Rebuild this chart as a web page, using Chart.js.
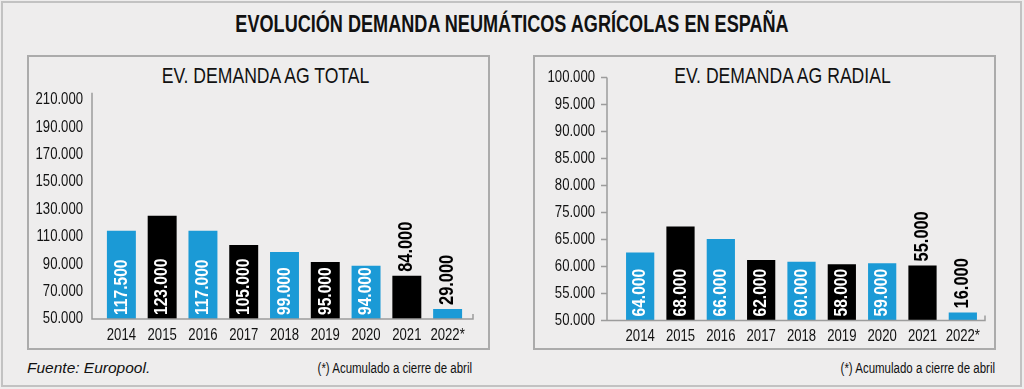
<!DOCTYPE html>
<html>
<head>
<meta charset="utf-8">
<script src="https://cdn.jsdelivr.net/npm/chart.js@4/dist/chart.umd.min.js"></script>
<style>
	body { margin: 0; background: #eeeded; width: 1024px; height: 389px; overflow: hidden; font-family: "Liberation Sans", Arial, sans-serif; color: #111; }
	.frame { position: absolute; left: 1px; top: 1px; width: 1021px; height: 386px; border: 2px solid #c2c2c2; box-sizing: border-box; }
	.panel { position: absolute; top: 55px; width: 463px; height: 295px; border: 2px solid #ababab; box-sizing: border-box; }
	.chart { position: absolute; top: 55px; }
	.txt { position: absolute; white-space: nowrap; line-height: 1; }
	.narrow { transform: scaleX(0.82); transform-origin: center; }
	.main-title { left: 0; width: 1024px; top: 13px; text-align: center; font-weight: bold; font-size: 23.5px; transform: scaleX(0.77); }
	.sub-title { top: 65px; width: 463px; text-align: center; font-size: 22px; transform: scaleX(0.8); }
	.fuente { left: 27px; top: 360px; font-style: italic; font-size: 15.5px; }
	.nota { top: 361px; font-size: 14px; text-align: right; width: 300px; transform-origin: right; }
</style>
</head>
<body>
<div class="frame"></div>
<div class="txt main-title">EVOLUCIÓN DEMANDA NEUMÁTICOS AGRÍCOLAS EN ESPAÑA</div>

<div class="panel" style="left:27px"></div>
<div class="panel" style="left:533px"></div>
<div class="txt sub-title" style="left:34px">EV. DEMANDA AG TOTAL</div>
<div class="txt sub-title" style="left:551px">EV. DEMANDA AG RADIAL</div>

<canvas id="chartTotal" class="chart" style="left:27px" width="463" height="295"></canvas>
<canvas id="chartRadial" class="chart" style="left:534px" width="461" height="295"></canvas>

<div class="txt fuente">Fuente: Europool.</div>
<div class="txt narrow nota" style="left:172px">(*) Acumulado a cierre de abril</div>
<div class="txt narrow nota" style="left:695px">(*) Acumulado a cierre de abril</div>

<script>
var years = ['2014', '2015', '2016', '2017', '2018', '2019', '2020', '2021', '2022*'];

// bar heights as drawn against the axis, and the figures printed on the bars
var totalBars = [114300, 125300, 114300, 103900, 98800, 91500, 88800, 81500, 57300];
var totalLabels = ['117.500', '123.000', '117.000', '105.000', '99.000', '95.000', '94.000', '84.000', '29.000'];

var radialBars = [62600, 67400, 65100, 61200, 60900, 60400, 60600, 60200, 51500];
var radialLabels = ['64.000', '68.000', '66.000', '62.000', '60.000', '58.000', '59.000', '55.000', '16.000'];
// tick labels of the radial axis (bottom to top), as printed
var radialTicks = ['50.000', '55.000', '60.000', '65.000', '75.000', '80.000', '85.000', '90.000', '95.000', '100.000'];

var BLUE = '#1b9ad6', BLACK = '#000000';
var barColors = years.map(function(y, i){ return i % 2 == 0 ? BLUE : BLACK; });

var FONT = '"Liberation Sans", Arial, sans-serif';
var SQUEEZE = 0.82; // condensed look

function fmt(v){
	return String(v).replace(/\B(?=(\d{3})+(?!\d))/g, '.');
}

function narrowText(ctx, text, x, y, align, rot){
	ctx.save();
	ctx.translate(x, y);
	if(rot) ctx.rotate(rot);
	ctx.scale(SQUEEZE, 1);
	ctx.textAlign = align;
	ctx.textBaseline = 'middle';
	ctx.fillText(text, 0, 0);
	ctx.restore();
}

// axis lines drawn a bit outside the plot area, plus the tick texts
var axisLines = {
	id: 'axisLines',
	afterDraw: function(chart, args, opts){
		var ctx = chart.ctx, a = chart.chartArea;
		var ax = a.left - opts.gap;
		var ys = chart.scales.y, xs = chart.scales.x;
		ctx.save();
		ctx.strokeStyle = '#9c9c9c';
		ctx.lineWidth = 1.5;
		ctx.beginPath();
		ctx.moveTo(ax, a.top - opts.over);
		ctx.lineTo(ax, a.bottom);
		ctx.lineTo(a.right + opts.extra, a.bottom);
		ctx.lineTo(a.right + opts.extra, a.bottom - 5);
		if(opts.ticks){
			ys.ticks.forEach(function(t){
				var py = ys.getPixelForValue(t.value);
				ctx.moveTo(ax - 6, py);
				ctx.lineTo(ax, py);
			});
		}
		ctx.stroke();

		ctx.fillStyle = '#111';
		ctx.font = '16px ' + FONT;
		ys.ticks.forEach(function(t, i){
			narrowText(ctx, opts.yText(t.value, i), a.left - opts.labelGap, ys.getPixelForValue(t.value), 'right');
		});
		xs.ticks.forEach(function(t, i){
			narrowText(ctx, years[i], xs.getPixelForTick(i), a.bottom + 16.5, 'center');
		});
		ctx.restore();
	}
};

// vertical figures inside or above each bar
var barFigures = {
	id: 'barFigures',
	afterDatasetsDraw: function(chart, args, opts){
		var ctx = chart.ctx, a = chart.chartArea;
		var meta = chart.getDatasetMeta(0);
		ctx.save();
		meta.data.forEach(function(bar, i){
			if(opts.above.indexOf(i) >= 0){
				ctx.fillStyle = '#000';
				ctx.font = 'bold 20px ' + FONT;
				narrowText(ctx, opts.labels[i], bar.x, bar.y - 4, 'left', -Math.PI / 2);
			}else{
				ctx.fillStyle = '#fff';
				ctx.font = 'bold 19px ' + FONT;
				narrowText(ctx, opts.labels[i], bar.x, Math.min(bar.base, a.bottom) - 4, 'left', -Math.PI / 2);
			}
		});
		ctx.restore();
	}
};

function makeChart(id, bars, labels, cfg){
	return new Chart(document.getElementById(id), {
		type: 'bar',
		data: {
			labels: years,
			datasets: [{
				data: bars,
				backgroundColor: barColors,
				borderWidth: 0,
				categoryPercentage: 1,
				barPercentage: cfg.barPct
			}]
		},
		options: {
			responsive: false,
			animation: false,
			layout: { padding: { top: cfg.top, right: cfg.right, left: 0, bottom: 0 } },
			plugins: {
				legend: { display: false },
				tooltip: { enabled: false },
				axisLines: cfg.axis,
				barFigures: { labels: labels, above: [7, 8] }
			},
			scales: {
				x: {
					grid: { display: false },
					border: { display: false },
					ticks: { display: false },
					afterFit: function(s){ s.height = cfg.xHeight; }
				},
				y: {
					min: cfg.min,
					max: cfg.max,
					grid: { display: false },
					border: { display: false },
					ticks: { display: false, stepSize: cfg.step },
					afterFit: function(s){ s.width = cfg.yWidth; }
				}
			}
		},
		plugins: [axisLines, barFigures]
	});
}

makeChart('chartTotal', totalBars, totalLabels, {
	barPct: 0.71, top: 44.7, right: 22, xHeight: 31, yWidth: 74,
	min: 50000, max: 210000, step: 20000,
	axis: { gap: 9, over: 7, extra: 5, ticks: false, labelGap: 18, yText: function(v){ return fmt(v); } }
});

makeChart('chartRadial', radialBars, radialLabels, {
	barPct: 0.70, top: 22.5, right: 12, xHeight: 29.5, yWidth: 86,
	min: 50000, max: 95000, step: 5000,
	axis: { gap: 13, over: 0, extra: 2, ticks: true, labelGap: 25, yText: function(v, i){ return radialTicks[i]; } }
});
</script>
</body>
</html>
